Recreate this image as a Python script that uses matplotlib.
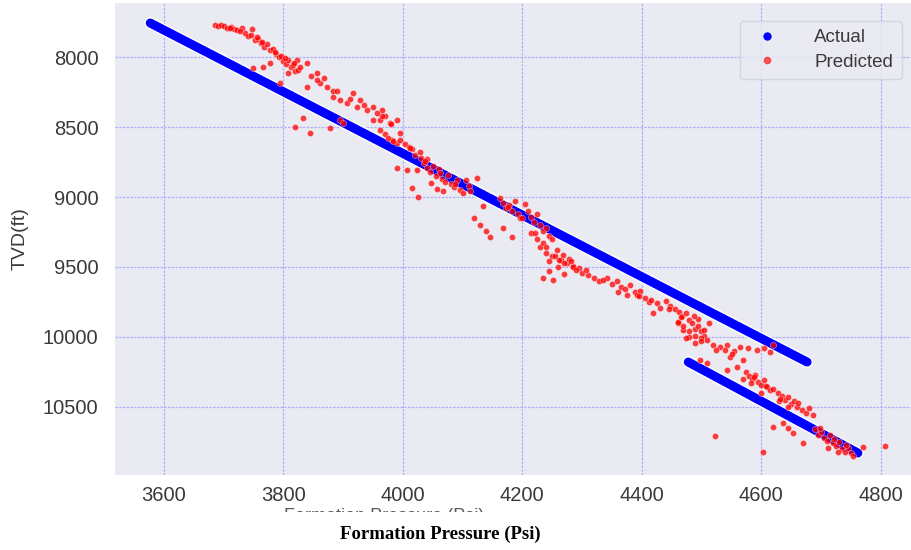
import matplotlib
matplotlib.use("Agg")
import matplotlib.pyplot as plt
import seaborn as sns
from matplotlib.lines import Line2D
from matplotlib.patches import Rectangle

# actual trend, two straight runs (pressure psi, tvd ft)
actual_seg1_p = [3577, 4677]
actual_seg1_tvd = [7757, 10179]
actual_seg2_p = [4478, 4762]
actual_seg2_tvd = [10179, 10829]

# predicted points
pred_p = [
    3685, 3690, 3695, 3700, 3705, 3712, 3718, 3722, 3730, 3735,
    3740, 3745, 3748, 3752, 3758, 3762, 3768, 3772, 3778, 3783,
    3788, 3792, 3796, 3800, 3805, 3808, 3812, 3816, 3820, 3825,
    3749, 3766, 3778, 3794, 3808, 3828, 3839, 3823, 3856, 3861,
    3839, 3873, 3883, 3895, 3906, 3923, 3940, 3950, 3962, 3979,
    3895, 3900, 3878, 3833, 3819, 3845, 3917, 3928, 3883, 3856,
    3950, 3965, 3970, 3990, 3982, 3990, 3965, 3980, 3995, 3962,
    3970, 3975, 3984, 3995, 4003, 4010, 4015, 4020, 4029, 3990,
    4007, 4024, 4015, 4025, 4035, 4040, 4045, 4050, 4055, 4060,
    4065, 4070, 4075, 4080, 4085, 4090, 4095, 4100, 4048, 4058,
    4068, 4040, 4030, 4124, 4134, 4120, 4130, 4140, 4146, 4105,
    4110, 4163, 4168, 4172, 4178, 4183, 4188, 4193, 4196, 4168,
    4183, 4205, 4210, 4215, 4220, 4225, 4230, 4235, 4240, 4245,
    4250, 4215, 4225, 4230, 4240, 4250, 4258, 4265, 4275, 4285,
    4295, 4260, 4245, 4235, 4240, 4255, 4262, 4270, 4278, 4285,
    4290, 4300, 4310, 4320, 4328, 4235, 4252, 4245, 4270, 4342,
    4350, 4358, 4365, 4372, 4380, 4388, 4392, 4398, 4405, 4412,
    4419, 4425, 4431, 4360, 4375, 4440, 4448, 4455, 4462, 4468,
    4475, 4480, 4485, 4490, 4495, 4500, 4505, 4510, 4512, 4520,
    4470, 4480, 4490, 4500, 4460, 4495, 4488, 4460, 4470, 4480,
    4490, 4500, 4505, 4475, 4543, 4565, 4593, 4615, 4548, 4570,
    4543, 4560, 4531, 4540, 4555, 4578, 4605, 4620, 4498, 4510,
    4575, 4580, 4585, 4590, 4595, 4600, 4605, 4610, 4615, 4583,
    4570, 4600, 4620, 4628, 4635, 4640, 4645, 4650, 4655, 4660,
    4668, 4675, 4680, 4687, 4630, 4645, 4620, 4637, 4645, 4654,
    4670, 4523, 4603, 4771, 4808, 4690, 4695, 4700, 4705, 4710,
    4715, 4720, 4725, 4730, 4735, 4740, 4745, 4750, 4754, 4728,
    4712, 3710, 3727, 3755, 3765, 3786, 3802, 3818, 3847, 3868,
    3889, 3912, 3935, 3957, 4012, 4037, 4062, 4087, 4112, 4176,
    4200, 4222, 4268, 4282, 4306, 4335, 4395, 4415, 4445, 4465,
    4525, 4552, 4588, 4608, 4632, 4662, 4698, 4722, 4742,
]
pred_tvd = [
    7770, 7775, 7768, 7780, 7790, 7785, 7800, 7810, 7795, 7830,
    7850, 7840, 7800, 7880, 7870, 7900, 7925, 7910, 7950, 7940,
    7980, 8000, 7990, 8030, 8050, 8020, 8070, 8060, 8100, 8090,
    8079, 8071, 8043, 8186, 8114, 8071, 8043, 8021, 8114, 8186,
    8214, 8214, 8286, 8307, 8329, 8357, 8379, 8450, 8450, 8471,
    8450, 8471, 8507, 8436, 8500, 8543, 8257, 8307, 8243, 8164,
    8357, 8379, 8421, 8450, 8593, 8614, 8420, 8480, 8540, 8521,
    8550, 8580, 8600, 8593, 8620, 8640, 8660, 8700, 8680, 8793,
    8807, 8807, 8936, 9000, 8760, 8790, 8820, 8780, 8850, 8800,
    8870, 8890, 8840, 8910, 8930, 8880, 8950, 8970, 8900, 8940,
    8960, 8730, 8720, 8864, 9064, 9150, 9200, 9240, 9286, 8880,
    8920, 9007, 9040, 9080, 9060, 9100, 9030, 9120, 9150, 9221,
    9286, 9050, 9100, 9140, 9180, 9120, 9200, 9240, 9220, 9280,
    9300, 9260, 9300, 9357, 9400, 9420, 9380, 9450, 9470, 9490,
    9510, 9500, 9460, 9330, 9360, 9420, 9450, 9470, 9440, 9500,
    9520, 9540, 9560, 9580, 9600, 9579, 9593, 9530, 9550, 9580,
    9620, 9600, 9640, 9660, 9630, 9680, 9700, 9670, 9720, 9750,
    9829, 9760, 9790, 9680, 9700, 9740, 9780, 9800, 9820, 9850,
    9830, 9880, 9900, 9940, 9920, 9960, 9990, 10020, 9900, 10057,
    9950, 10000, 10040, 10010, 9900, 9870, 9850, 9890, 9920, 9960,
    9990, 10030, 9950, 10010, 10057, 10071, 10093, 10107, 10143, 10164,
    10236, 10214, 10070, 10090, 10100, 10080, 10080, 10060, 10164, 10186,
    10250, 10280, 10300, 10270, 10320, 10340, 10310, 10360, 10380, 10330,
    10300, 10400, 10370, 10400, 10420, 10450, 10430, 10480, 10460, 10500,
    10520, 10540, 10510, 10560, 10460, 10500, 10643, 10614, 10650, 10686,
    10757, 10707, 10821, 10786, 10779, 10660, 10700, 10680, 10720, 10740,
    10700, 10760, 10780, 10750, 10800, 10820, 10790, 10830, 10850, 10820,
    10790, 7795, 7815, 7860, 7890, 7965, 8010, 8045, 8135, 8150,
    8240, 8300, 8340, 8400, 8650, 8745, 8830, 8905, 8960, 9070,
    9150, 9260, 9415, 9460, 9525, 9590, 9705, 9735, 9800, 9860,
    10090, 10120, 10285, 10350, 10440, 10475, 10650, 10730, 10775,
]

x_ticks = [3600, 3800, 4000, 4200, 4400, 4600, 4800]
y_ticks = [8000, 8500, 9000, 9500, 10000, 10500]

sns.set_style("darkgrid")
plt.rcParams["font.family"] = ["Liberation Sans", "DejaVu Sans"]

fig = plt.figure(figsize=(9.11, 5.5), dpi=100)
ax = fig.add_axes([115 / 911, 75 / 550, 796 / 911, 472 / 550])
ax.set_facecolor("#EAEAF2")

for px, py in [(actual_seg1_p, actual_seg1_tvd), (actual_seg2_p, actual_seg2_tvd)]:
    ax.plot(px, py, color="white", lw=8.5, solid_capstyle="round", zorder=2)
    ax.plot(px, py, color="#0000ff", lw=6.5, solid_capstyle="round", zorder=3)

ax.scatter(pred_p, pred_tvd, s=20, color="red", alpha=0.75, linewidths=0.3,
           edgecolors="white", zorder=4)

ax.set_xlim(3518, 4851)
ax.set_ylim(10986, 7614)
ax.set_xticks(x_ticks)
ax.set_yticks(y_ticks)
ax.grid(True, color="#a8a8ff", lw=0.9, ls=(0, (2, 1)), alpha=0.9)
ax.tick_params(axis="both", labelsize=14.5, colors="#3a3a3a", length=0)
ax.tick_params(axis="x", pad=8)
ax.tick_params(axis="y", pad=12)
ax.set_ylabel("TVD(ft)", fontsize=14, color="#3a3a3a", labelpad=10)
for s in ax.spines.values():
    s.set_visible(False)

handles = [
    Line2D([], [], ls="none", marker="o", ms=5, color="#0000ff"),
    Line2D([], [], ls="none", marker="o", ms=4.5, color="red", alpha=0.6),
]
leg = ax.legend(handles, ["Actual", "Predicted"], loc="upper right",
                fontsize=13.5, frameon=True, borderpad=0.45, handletextpad=1.5,
                labelspacing=0.4, bbox_to_anchor=(1.0, 0.982))
leg.get_frame().set_facecolor("#EAEAF2")
leg.get_frame().set_edgecolor("#d0d0d8")
for t in leg.get_texts():
    t.set_color("#3a3a3a")

# faint original axis label, mostly hidden under the caption strip
fig.text(384 / 911, 1 - 508 / 550, "Formation Pressure (Psi)", fontsize=13,
         color="#5a5a5a", ha="center", va="top")
fig.patches.append(Rectangle((0, 0), 1, 1 - 512 / 550, transform=fig.transFigure,
                             facecolor="white", edgecolor="none", zorder=5))
fig.text(440 / 911, 1 - 534 / 550, "Formation Pressure (Psi)", fontsize=13.5,
         family=["Liberation Serif", "DejaVu Serif"], weight="bold",
         color="black", ha="center", va="center", zorder=6)

fig.savefig("out.png", dpi=100)
